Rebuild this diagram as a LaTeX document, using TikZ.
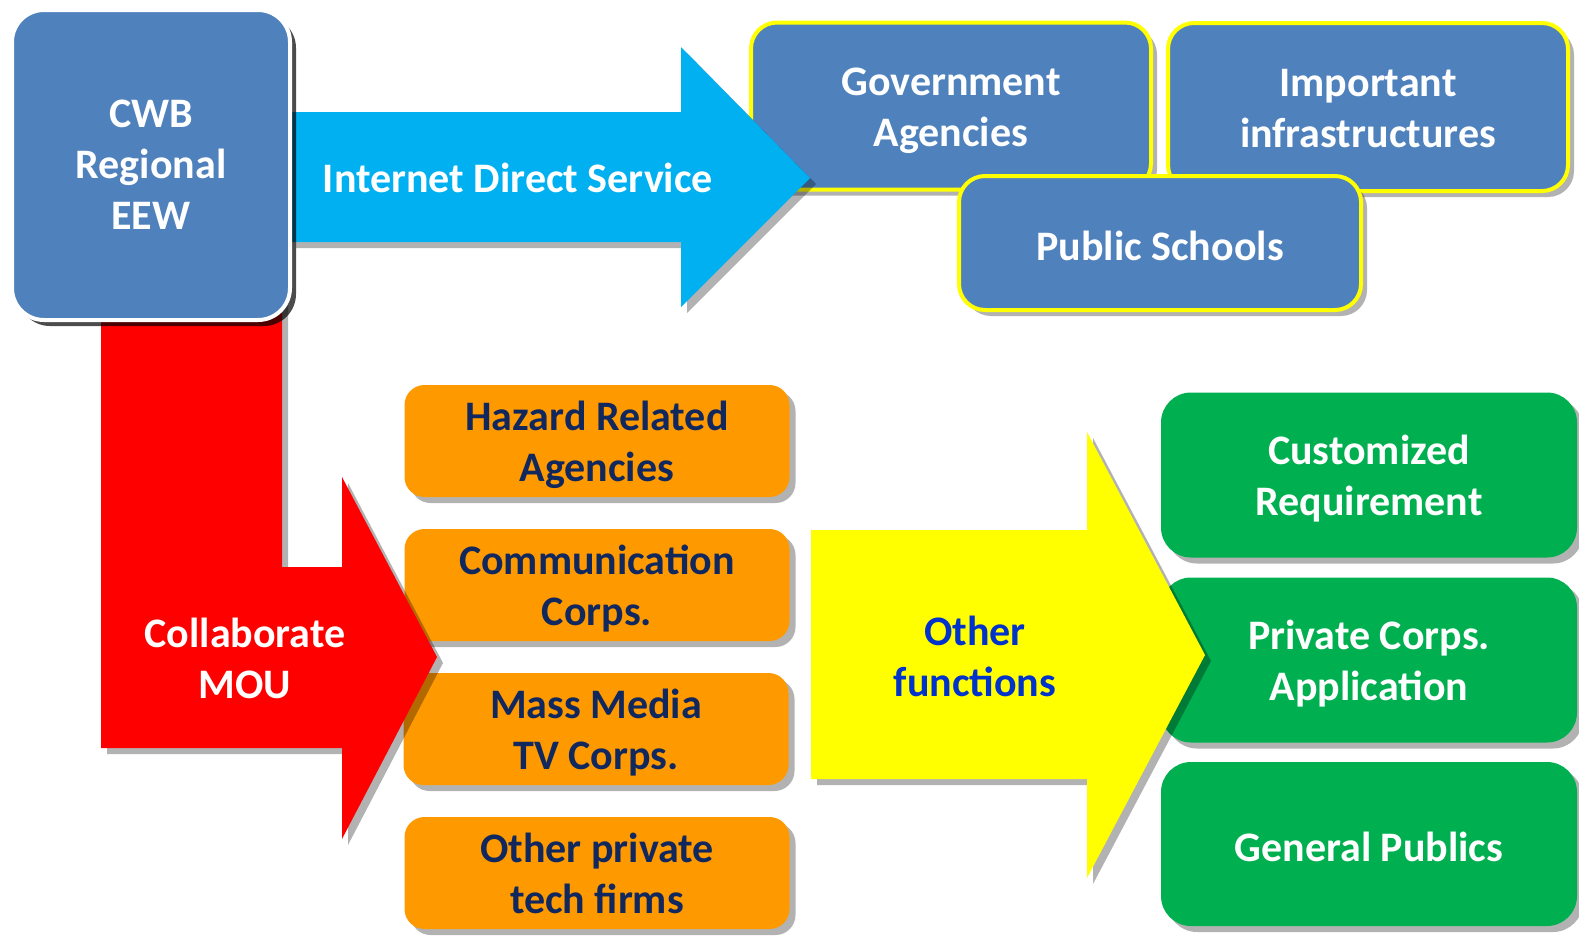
\documentclass[tikz,border=0pt]{standalone}
\usepackage{fontspec}
\setmainfont{Carlito}
\usetikzlibrary{shadows}
\definecolor{cwbblue}{HTML}{4F81BD}
\definecolor{arrcyan}{HTML}{00B0F0}
\definecolor{arrred}{HTML}{FF0000}
\definecolor{arryellow}{HTML}{FFFF00}
\definecolor{boxorange}{HTML}{FF9900}
\definecolor{boxgreen}{HTML}{00B050}
\definecolor{navytext}{HTML}{10285E}
\definecolor{bluetext}{HTML}{0033CC}
\tikzset{
  txt/.style={align=center, inner sep=0pt, font=\bfseries\fontsize{21}{25.5}\selectfont},
  twoline/.style={text height=44.5pt, text depth=4pt},
  oneline/.style={text height=17pt, text depth=0pt},
  shad/.style={drop shadow={shadow xshift=3pt, shadow yshift=-3pt, opacity=0.3, fill=black}},
  cwbbox/.style={txt, drop shadow={shadow xshift=3pt, shadow yshift=-3pt, opacity=0.7, fill=black}, fill=cwbblue, draw=white, line width=2pt, rounded corners=16pt, text=white, minimum width=139pt, minimum height=155pt},
  govbox/.style={txt, shad, fill=cwbblue, draw=arryellow, line width=2pt, rounded corners=13pt, text=white},
  orgbox/.style={txt, twoline, shad, fill=boxorange, rounded corners=10pt, text=navytext, minimum width=192.5pt, minimum height=56pt},
  grnbox/.style={txt, shad, fill=boxgreen, rounded corners=15pt, text=white, minimum width=208pt, minimum height=82.5pt},
  arrlabel/.style={txt}
}
\begin{document}
\begin{tikzpicture}[x=0.5pt, y=-0.5pt]
\useasboundingbox (0,0) rectangle (1579,939);

% top-right targets
\node[govbox, twoline, minimum width=200pt, minimum height=83.5pt] (gov) at (951,106) {Government\\Agencies};
\node[govbox, twoline, minimum width=200pt, minimum height=84pt] (imp) at (1368,107) {Important\\infrastructures};
\node[govbox, oneline, minimum width=201pt, minimum height=67pt] (pub) at (1160,243) {Public Schools};

% orange partners
\node[orgbox] (haz) at (597,441) {Hazard Related\\Agencies};
\node[orgbox] (com) at (597,585) {Communication\\Corps.};
\node[orgbox] (mas) at (596,729) {Mass Media\\TV Corps.};
\node[orgbox] (oth) at (597,873) {Other private\\tech firms};

% green outputs
\node[grnbox, twoline] (cus) at (1369,475) {Customized\\Requirement};
\node[grnbox, twoline] (pri) at (1369,660) {Private Corps.\\Application};
\node[grnbox, oneline, minimum height=82pt] (gen) at (1369,844) {General Publics};

% red L arrow
\path[fill=arrred, shad] (101,300) -- (282,300) -- (282,567) -- (342,567) -- (342,477)
  -- (437,657) -- (342,839) -- (342,748) -- (101,748) -- cycle;
\node[arrlabel, text=white] (mou) at (245,658) {Collaborate\\MOU};

% cyan arrow
\path[fill=arrcyan, shad] (290,112) -- (681,112) -- (681,47) -- (810,178)
  -- (681,307) -- (681,242) -- (290,242) -- cycle;
\node[arrlabel, text=white] (ids) at (518,178) {Internet Direct Service};

% yellow arrow
\path[fill=arryellow, shad] (811,530) -- (1087,530) -- (1087,432) -- (1205,655)
  -- (1087,878) -- (1087,779) -- (811,779) -- cycle;
\node[arrlabel, text=bluetext] (ofn) at (975,656) {Other\\functions};

% source
\node[cwbbox] (cwb) at (151,165) {CWB\\Regional\\EEW};
\end{tikzpicture}
\end{document}
